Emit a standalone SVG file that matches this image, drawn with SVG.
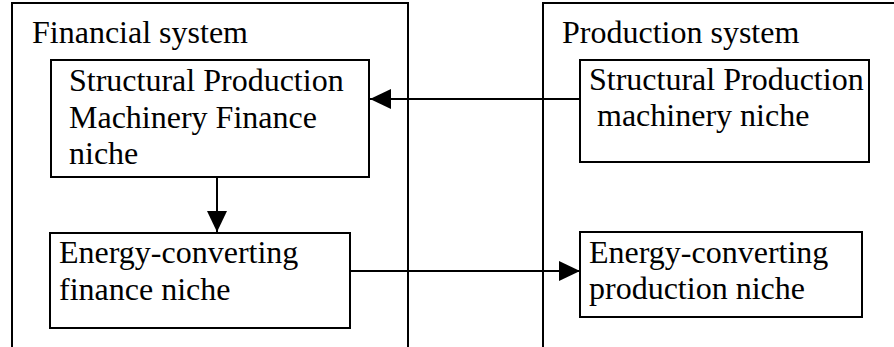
<svg xmlns="http://www.w3.org/2000/svg" width="894" height="347" viewBox="0 0 894 347">
  <style>
    .frame { fill: none; stroke: #000; stroke-width: 2; }
    .box { fill: #fff; stroke: #000; stroke-width: 2; }
    .lbl { font-size: 32px; fill: #000; }
    .conn { fill: none; stroke: #000; stroke-width: 2; }
  </style>
  <defs>
    <marker id="arr" viewBox="0 0 21 20" refX="21" refY="10" markerWidth="21" markerHeight="20" markerUnits="userSpaceOnUse" orient="auto">
      <path d="M0,0 L21,10 L0,20 Z" fill="#000"/>
    </marker>
  </defs>
  <rect width="894" height="347" fill="#fff"/>
  <g font-family="'Liberation Serif', 'Times New Roman', 'DejaVu Serif', serif">
  <g id="financial-system">
    <path class="frame" d="M12,348 V3 H408 V348"/>
    <text class="lbl" x="32" y="43">Financial system</text>
  </g>
  <g id="production-system">
    <path class="frame" d="M543,348 V3 H896"/>
    <text class="lbl" x="562" y="43">Production system</text>
  </g>
  <g id="connectors">
    <line class="conn" x1="580" y1="99" x2="370" y2="99" marker-end="url(#arr)"/>
    <line class="conn" x1="217" y1="177" x2="217" y2="232" marker-end="url(#arr)"/>
    <line class="conn" x1="350" y1="271" x2="580" y2="271" marker-end="url(#arr)"/>
  </g>
  <g id="structural-finance-niche">
    <rect class="box" x="51" y="60" width="318" height="117"/>
    <text class="lbl" x="69" y="91">Structural Production</text>
    <text class="lbl" x="69" y="127.5">Machinery Finance</text>
    <text class="lbl" x="69" y="164">niche</text>
  </g>
  <g id="structural-production-niche">
    <rect class="box" x="580" y="60" width="289" height="102"/>
    <text class="lbl" x="589" y="90">Structural Production</text>
    <text class="lbl" x="597" y="126">machinery niche</text>
  </g>
  <g id="energy-finance-niche">
    <rect class="box" x="50" y="233" width="300" height="95"/>
    <text class="lbl" x="59" y="263">Energy-converting</text>
    <text class="lbl" x="59" y="300">finance niche</text>
  </g>
  <g id="energy-production-niche">
    <rect class="box" x="580" y="232" width="282" height="85"/>
    <text class="lbl" x="589" y="263">Energy-converting</text>
    <text class="lbl" x="589" y="299">production niche</text>
  </g>
  </g>
</svg>
